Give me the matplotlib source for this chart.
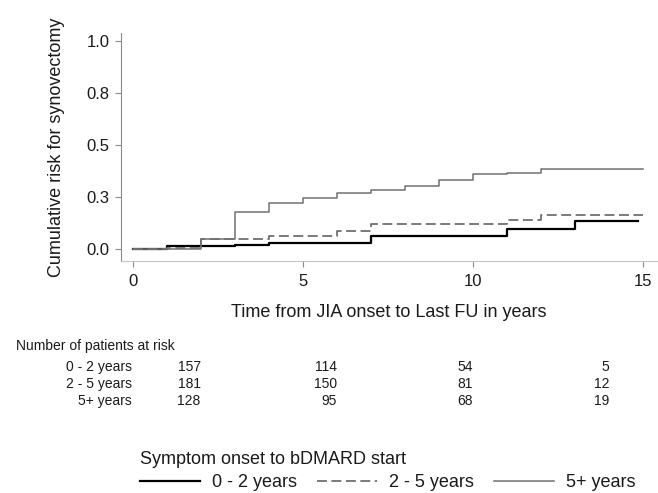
import matplotlib
matplotlib.use('Agg')
import matplotlib.pyplot as plt
from matplotlib.transforms import blended_transform_factory

plt.rcParams['font.family'] = ['Liberation Sans', 'DejaVu Sans']

# cumulative risk step curves
t_02 = [0, 1, 3, 4, 7, 11, 13, 14.85]
risk_02 = [0, 0.014, 0.02, 0.032, 0.065, 0.096, 0.135, 0.135]

t_25 = [0, 1, 2, 4, 6, 7, 11, 12, 15]
risk_25 = [0, 0.005, 0.05, 0.065, 0.09, 0.12, 0.14, 0.163, 0.163]

t_5p = [0, 2, 3, 4, 5, 6, 7, 8, 9, 10, 11, 12, 15]
risk_5p = [0, 0.05, 0.181, 0.224, 0.247, 0.269, 0.285, 0.304, 0.333, 0.362, 0.368, 0.385, 0.385]

groups = ['0 - 2 years', '2 - 5 years', '5+ years']

# number at risk table
risk_rows = ['0 - 2 years', '2 - 5 years', '5+ years']
at_risk = [[157, 114, 54, 5],
           [181, 150, 81, 12],
           [128, 95, 68, 19]]
risk_x = [2, 6, 10, 14]   # where the columns sit (right edge) on the time axis

yticks = [0, 0.25, 0.5, 0.75, 1.0]
yticklabels = ['0.0', '0.3', '0.5', '0.8', '1.0']
xticks = [0, 5, 10, 15]

txt = '#1a1a1a'
gray = '#707070'

fig = plt.figure(figsize=(6.58, 4.93), dpi=100)
ax = fig.add_axes([0.1834, 0.4712, 0.8150, 0.4619])

l1, = ax.step(t_02, risk_02, where='post', color='black', lw=1.6)
l2, = ax.step(t_25, risk_25, where='post', color=gray, lw=1.3, linestyle=(0, (5.5, 2.5)))
l3, = ax.step(t_5p, risk_5p, where='post', color=gray, lw=1.1)

ax.set_xlim(-0.35, 15.4)
ax.set_ylim(-0.055, 1.04)
ax.set_xticks(xticks)
ax.set_yticks(yticks)
ax.set_yticklabels(yticklabels)

for s in ['top', 'right']:
    ax.spines[s].set_visible(False)
ax.spines['left'].set_color('#8a8a8a')
ax.spines['bottom'].set_color('#c4c4c4')
ax.tick_params(axis='both', direction='out', length=4.3, width=0.8, color='#8a8a8a',
               labelsize=12, labelcolor=txt)
ax.tick_params(axis='x', pad=5.5)
ax.tick_params(axis='y', pad=3.5)

ax.set_xlabel('Time from JIA onset to Last FU in years', fontsize=13, color=txt)
ax.xaxis.set_label_coords(0.5, -0.19)
ax.set_ylabel('Cumulative risk for synovectomy', fontsize=13, color=txt)
ax.yaxis.set_label_coords(-0.104, 0.5)

# risk table
fig.text(16 / 658, 1 - 346 / 493, 'Number of patients at risk', fontsize=10, color=txt,
         ha='left', va='center')
trans = blended_transform_factory(ax.transData, fig.transFigure)
row_y = [366.7, 384, 400.7]
for i, name in enumerate(risk_rows):
    yy = 1 - row_y[i] / 493
    fig.text(131.7 / 658, yy, name, fontsize=10, color=txt, ha='right', va='center')
    for j, n in enumerate(at_risk[i]):
        ax.text(risk_x[j], yy, str(n), transform=trans, fontsize=10, color=txt,
                ha='right', va='center', clip_on=False)

leg = fig.legend([l1, l2, l3], groups, loc='upper left', bbox_to_anchor=(0.2128, 0.086),
                 ncol=3, frameon=False, title='Symptom onset to bDMARD start',
                 fontsize=13, title_fontsize=13, handlelength=3.3, handletextpad=0.7,
                 columnspacing=1.1, borderpad=0, borderaxespad=0, labelspacing=0.35,
                 alignment='left', labelcolor=txt)
leg.get_title().set_color(txt)

fig.savefig('out.png', dpi=100)
